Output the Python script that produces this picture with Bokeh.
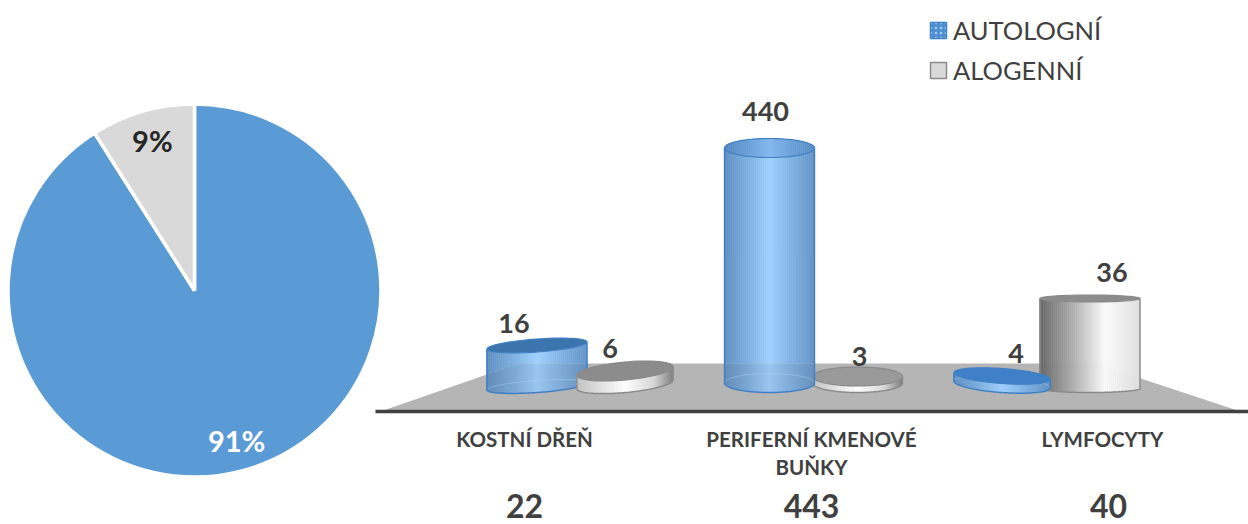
import numpy as np
from bokeh.plotting import figure
from bokeh.models import Range1d, LinearAxis, FixedTicker, Legend, LegendItem, ColumnDataSource
from bokeh.core.properties import value
from bokeh.embed import file_html
from bokeh.resources import INLINE

# ---- data ----
pie_labels = ["91%", "9%"]
pie_values = [91, 9]
categories = ["KOSTNÍ DŘEŇ", "PERIFERNÍ KMENOVÉ\nBUŇKY", "LYMFOCYTY"]
autologni = [16, 440, 4]
alogenni = [6, 3, 36]
totals = [22, 443, 40]
series_names = ["AUTOLOGNÍ", "ALOGENNÍ"]

# the chart's hidden, non-linear value axis: value -> drawn height in px
axis_values = [3, 4, 6, 16, 36, 440]
axis_heights = [6.5, 8.5, 13.5, 41, 90, 235]

# ---- layout / style ----
W, H = 1248, 524
FONT = "Lato"
INK = "#404040"
cat_x0, cat_dx, bar_off = 580.5, 232.5, 44.0
label_x = [524, 811, 1102]
total_x = [524, 811, 1108]
axis_y, floor_y = 411.0, 392.0
BLUE = dict(stops=[(0, "#4c80b8"), (.25, "#6aa3db"), (.5, "#93caff"), (.75, "#6ea6de"), (1, "#4f86bf")],
            edge="#3f7fc4", see_through=.14)
GREY_L = dict(stops=[(0, "#c4c4c4"), (.5, "#ffffff"), (.8, "#d8d8d8"), (1, "#7d7d7d")],
              edge="#8a8a8a", see_through=0)
GREY_R = dict(stops=[(0, "#666666"), (.3, "#a8a8a8"), (.65, "#fafafa"), (1, "#dedede")],
              edge="#8a8a8a", see_through=0)
FLOOR = "#b5b5b5"

p = figure(width=W, height=H, output_backend="svg", toolbar_location=None,
           x_range=Range1d(0, W), y_range=Range1d(H, 0),
           min_border=0, outline_line_color=None, x_axis_type=None, y_axis_type=None)
p.grid.visible = False
p.background_fill_color = "white"

# ---- pie, on its own ranges ----
pc_x, pc_y, pr = 194.0, 290.0, 186.5
p.extra_x_ranges["pie"] = Range1d((0 - pc_x) / pr, (W - pc_x) / pr)
p.extra_y_ranges["pie"] = Range1d((pc_y - H) / pr, pc_y / pr)
frac = np.cumsum([0] + pie_values) / sum(pie_values)
starts = np.pi / 2 - 2 * np.pi * frac[1:]
ends = np.pi / 2 - 2 * np.pi * frac[:-1]
p.wedge(x=0, y=0, radius=1, start_angle=starts, end_angle=ends,
        fill_color=["#5b9bd5", "#d9d9d9"], line_color="white", line_width=3.5,
        x_range_name="pie", y_range_name="pie")
mid = (starts + ends) / 2
p.text(x=0.81 * np.cos(mid), y=0.84 * np.sin(mid), text=pie_labels,
       text_color=["white", "#262626"], text_font=value(FONT), text_font_style="bold",
       text_font_size="29px", text_align="center", text_baseline="middle",
       x_range_name="pie", y_range_name="pie")

# ---- floor of the 3D chart ----
p.patch(x=[380, 518, 1095, 1240], y=[axis_y, 363, 363, axis_y], fill_color=FLOOR, line_color=None)


def floor_top(x):
    return np.maximum(363, np.maximum(410 - (x - 380) * .34, 363 + (x - 1095) * .33))


def to_rgb(c):
    return np.array([int(c[i:i + 2], 16) for i in (1, 3, 5)], float)


def mix(stops, t, over, k):
    ts = [s[0] for s in stops]
    rgb = np.array([to_rgb(s[1]) for s in stops])
    col = np.array([np.interp(t, ts, rgb[:, i]) for i in range(3)])
    col = col * (1 - k) + to_rgb(over) * k
    return "#%02x%02x%02x" % tuple(int(round(v)) for v in col)


def ellipse(cx, cy, hw, ry, tilt, a0=0, a1=2 * np.pi):
    a = np.linspace(a0, a1, 72)
    xs = cx + hw * np.cos(a)
    return xs, cy + ry * np.sin(a) + tilt * (xs - cx)


def cylinder(cx, val, top_ry, bot_ry, tilt, style, top_fill, top_alpha):
    hw = (88 + 0.0435 * abs(cx - (cat_x0 + cat_dx))) / 2
    h = float(np.interp(val, axis_values, axis_heights))
    base = floor_y - bot_ry
    top = base - h
    k = style["see_through"]
    # a see-through top shows the gradient of the far wall behind it
    sign = -1 if top_alpha < 1 else 1
    edges = np.arange(round(cx - hw), round(cx + hw) + .1, 2.0)
    xs_list, ys_list, colors = [], [], []
    for a, b in zip(edges[:-1], edges[1:]):
        c = 0.5 * (a + b)
        u = np.clip((c - cx) / hw, -1, 1)
        t = (c - (cx - hw)) / (2 * hw)
        lo = base + bot_ry * np.sqrt(1 - u**2) + tilt * (c - cx)
        hi = top + sign * top_ry * np.sqrt(1 - u**2) + tilt * (c - cx)
        if k and hi < floor_top(c) < lo:
            ft = float(floor_top(c))
            parts = [(hi, ft, "#ffffff", k * .8), (ft, lo, FLOOR, k * 1.4)]
        else:
            parts = [(hi, lo, "#ffffff", k * .8 if k else 0)]
        for y0, y1, over, kk in parts:
            xs_list.append([a, b + .4, b + .4, a])
            ys_list.append([y0, y0, y1, y1])
            colors.append(mix(style["stops"], t, over, kk))
    p.patches(xs_list, ys_list, fill_color=colors, line_color=None)
    if k:
        ex, ey = ellipse(cx, base, hw, bot_ry, tilt, np.pi, 2 * np.pi)
        p.line(ex, ey, line_color="#a9d0f5", line_alpha=.5, line_width=1)
    ex, ey = ellipse(cx, base, hw, bot_ry, tilt, 0, np.pi)
    p.line(ex, ey, line_color=style["edge"], line_width=1.5)
    xl, xr = cx - hw, cx + hw
    p.line([xl, xl], [top - tilt * hw, base - tilt * hw], line_color=style["edge"], line_width=1.5)
    p.line([xr, xr], [top + tilt * hw, base + tilt * hw], line_color=style["edge"], line_width=1.5)
    ex, ey = ellipse(cx, top, hw, top_ry, tilt)
    p.patch(ex, ey, fill_color=top_fill, fill_alpha=top_alpha, line_color=style["edge"], line_width=1.2)
    return top


centers_a = [cat_x0 + i * cat_dx - bar_off for i in range(3)]
centers_b = [cat_x0 + i * cat_dx + bar_off for i in range(3)]

# (series, category index, top ry, bottom ry, tilt, style, top colour, top alpha, label dx, label gap)
draw_order = [
    ("a", 0, 6.5, 6.0, -.07, BLUE, "#3c74ae", 1, -23, 22),
    ("b", 0, 9.0, 8.0, -.09, GREY_L, "#8c8c8c", 1, -15, 23),
    ("b", 1, 9.5, 9.5, .0, GREY_L, "#9a9a9a", 1, 2, 20),
    ("a", 1, 9.5, 9.5, .0, BLUE, "#3f7fc4", .3, -4, 37),
    ("b", 2, 3.5, 4.0, .0, GREY_R, "#8c8c8c", 1, 22, 26),
    ("a", 2, 7.5, 8.0, .07, BLUE, "#3f80c8", 1, 14, 23),
]
lx, ly, lt = [], [], []
for s, i, tr, br, tilt, st, tf, ta, dx, gap in draw_order:
    cx = (centers_a if s == "a" else centers_b)[i]
    v = (autologni if s == "a" else alogenni)[i]
    t = cylinder(cx, v, tr, br, tilt, st, tf, ta)
    lx.append(cx + dx)
    ly.append(t - gap)
    lt.append(str(v))

p.text(x=lx, y=ly, text=lt, text_color=INK, text_font=value(FONT), text_font_style="bold",
       text_font_size="27px", text_align="center", text_baseline="middle")

# ---- category axis with the floor's front edge as its line ----
ax = LinearAxis(ticker=FixedTicker(ticks=label_x), fixed_location=axis_y,
                bounds=(375, W),
                major_label_overrides={c: t for c, t in zip(label_x, categories)},
                major_tick_line_color=None, minor_tick_line_color=None,
                axis_line_color=INK, axis_line_width=3.5,
                major_label_text_font=FONT, major_label_text_font_style="bold",
                major_label_text_font_size="20.5px", major_label_text_color=INK,
                major_label_standoff=9, major_label_orientation="horizontal")
p.add_layout(ax, "below")

# totals under the categories
p.text(x=total_x, y=[505] * 3, text=[str(t) for t in totals], text_color=INK, text_font=value(FONT),
       text_font_style="bold", text_font_size="32px", text_align="center", text_baseline="middle")

# ---- legend ----
off = dict(left=[-50], right=[-40], top=[-50], bottom=[-40])
r1 = p.quad(left="left", right="right", top="top", bottom="bottom", source=ColumnDataSource(off),
            fill_color="#4f8fd0", line_color="#3f7fc4", line_width=1.5,
            hatch_pattern="dot", hatch_color="#a9cdf0", hatch_scale=5, hatch_weight=1)
r2 = p.quad(left="left", right="right", top="top", bottom="bottom", source=ColumnDataSource(off),
            fill_color="#d9d9d9", line_color="#8a8a8a", line_width=1.5)
leg = Legend(items=[LegendItem(label=series_names[0], renderers=[r1]),
                    LegendItem(label=series_names[1], renderers=[r2])],
             location=(928, 439), orientation="vertical", border_line_color=None,
             background_fill_alpha=0, padding=0, margin=0, spacing=10,
             glyph_width=20, glyph_height=20, label_height=24, label_standoff=5,
             label_text_font=FONT, label_text_font_size="25.5px", label_text_color=INK)
p.add_layout(leg, "center")

open("out.html", "w").write(file_html(p, INLINE))
